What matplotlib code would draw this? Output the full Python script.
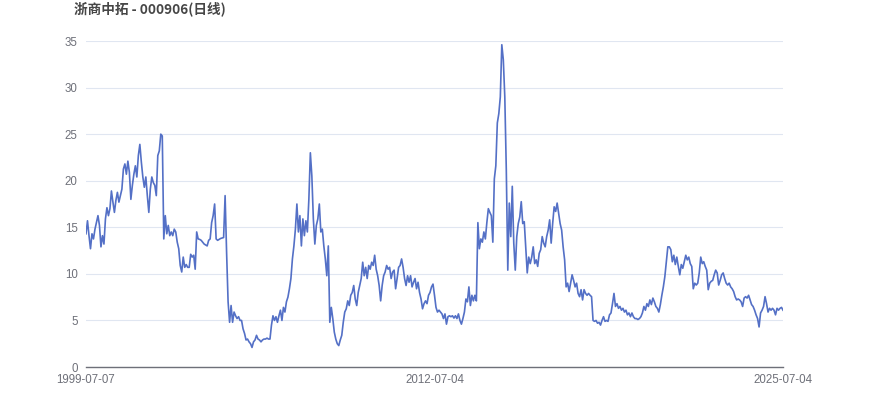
import matplotlib
matplotlib.use("Agg")
import matplotlib.pyplot as plt

plt.rcParams['font.family'] = ['Liberation Sans', 'Noto Sans CJK SC', 'DejaVu Sans']

# ============================
# 数据（从图上读取的日线收盘价，按交易日顺序）
# ============================
title = "浙商中拓 - 000906(日线)"

seg_1999_2005 = [
    14.3, 15.7, 14.1, 12.7, 14.3, 13.75, 14.8, 15.5, 16.25, 15.2, 12.9, 14.1, 13.2, 15.9,
    17.1, 16.25, 17.0, 18.9, 17.7, 16.6, 17.9, 18.75, 17.7, 18.4, 19.1, 21.25, 21.8, 20.7,
    22.1, 20.9, 18.0, 19.5, 20.7, 21.6, 20.4, 22.7, 23.9, 22.0, 20.4, 19.3, 20.4, 18.4,
    16.6, 19.1, 20.4, 19.8, 19.5, 18.4, 22.7, 23.2, 25.0, 24.8, 13.75, 16.25, 14.3, 15.2,
    14.1, 14.5, 14.1, 14.8, 14.5, 13.4, 12.7, 10.9, 10.2, 11.8, 10.7, 11.0, 10.7, 10.7,
    12.1, 11.8, 12.0, 10.5, 14.5, 13.75, 13.7, 13.6, 13.4, 13.2, 13.1, 13.0, 13.6, 13.75,
    15.5, 16.25, 17.5, 13.75, 13.6, 13.7, 13.8, 13.85, 13.9, 18.4, 12.3, 7.0, 4.8, 6.6,
]
seg_2005_2011 = [
    4.8, 5.9, 5.5, 5.2, 5.4, 5.0, 5.0, 4.1, 3.6, 2.9, 3.0, 2.7, 2.5, 2.1, 2.7, 2.9, 3.4,
    3.0, 2.9, 2.7, 2.9, 3.0, 3.0, 3.1, 3.0, 3.0, 4.5, 5.5, 5.0, 5.4, 4.8, 5.5, 6.1, 5.0,
    6.4, 5.9, 7.0, 7.5, 8.4, 9.5, 11.6, 13.0, 14.8, 17.5, 14.5, 16.25, 13.0, 15.9, 14.1,
    15.7, 14.5, 18.0, 23.0, 20.5, 15.9, 13.2, 15.2, 15.9, 17.5, 14.5, 14.8, 13.0, 11.6,
    9.8, 13.0, 4.8, 6.4, 5.2, 3.75, 3.0, 2.5, 2.3, 2.9, 3.4, 4.8, 5.9, 6.25, 7.1, 6.6,
    7.7, 8.0, 8.75, 7.3, 6.6, 8.0, 8.75, 9.5, 11.25, 9.8, 10.7, 9.5, 10.9, 10.5, 11.25,
    10.9,
]
seg_2011_2015 = [
    12.0, 10.5, 9.8, 8.75, 7.1, 8.75, 9.8, 10.2, 10.9, 10.5, 10.7, 9.5, 10.2, 10.4, 8.4,
    9.5, 10.7, 10.9, 11.6, 10.7, 9.5, 8.75, 9.8, 9.1, 9.8, 8.6, 9.1, 9.5, 8.4, 9.1, 8.0,
    7.3, 6.25, 6.8, 7.1, 6.8, 7.7, 8.0, 8.6, 8.9, 7.7, 6.4, 5.9, 6.1, 5.9, 5.7, 5.2, 5.7,
    4.6, 5.4, 5.5, 5.4, 5.5, 5.25, 5.5, 5.2, 5.7, 5.0, 4.6, 5.2, 5.9, 7.3, 7.0, 8.6, 6.6,
    7.7, 7.1, 7.7, 7.1, 15.5, 12.7, 13.75, 13.4, 14.5, 13.75, 15.5, 17.0, 16.6, 16.25,
    13.4, 20.2, 21.6,
]
seg_2015_2020 = [
    26.2, 27.2, 29.0, 34.6, 33.0, 29.0, 21.2, 10.4, 17.6, 14.0, 19.4, 13.3, 10.4,
    14.0, 15.4, 16.1, 17.75, 15.4, 15.6, 12.9, 10.1, 11.8, 11.1, 11.8, 12.9, 11.1, 11.5,
    10.8, 12.2, 12.6, 14.0, 13.3, 12.9, 14.0, 14.7, 15.8, 13.3, 15.4, 17.2, 16.7, 17.6,
    16.5, 15.4, 14.7, 12.9, 11.5, 8.6, 9.0, 8.1, 9.0, 9.9, 9.3, 8.6, 9.0, 7.9, 7.55, 8.3,
    7.2, 8.3, 7.9, 7.7, 7.9, 7.7, 7.55, 5.0, 4.9, 5.0, 4.7, 4.8, 4.5, 5.0, 5.4, 4.9, 5.0,
    4.9, 5.6, 5.8, 6.8, 7.9, 6.5, 6.8, 6.3, 6.5, 6.1, 6.3, 5.9, 6.1, 5.6, 5.8, 5.4, 5.8,
    5.4, 5.2, 5.2, 5.1, 5.2,
]
seg_2020_2025 = [
    5.4, 5.8, 6.5, 6.1, 6.8, 6.5, 7.2, 6.7, 7.4, 7.0, 6.5, 6.3, 5.9, 6.7, 7.7, 8.6, 9.7,
    11.3, 12.9, 12.9, 12.6, 11.3, 12.0, 11.0, 11.8, 10.8, 9.9, 11.0, 10.6, 11.3, 12.0,
    11.5, 11.8, 11.1, 10.8, 8.4, 9.0, 8.8, 9.0, 10.1, 11.8, 11.1, 11.3, 10.8, 10.4, 8.3,
    9.0, 9.2, 9.3, 9.9, 10.4, 10.1, 8.8, 9.3, 9.9, 10.1, 9.5, 9.0, 8.8, 9.0, 8.6, 8.4,
    8.1, 7.55, 7.2, 7.3, 7.2, 7.0, 6.5, 7.4, 7.55, 7.4, 7.7, 7.2, 6.7, 6.5, 6.1, 5.6,
    5.2, 4.3, 5.8, 6.1, 6.5, 7.55, 6.8, 5.9, 6.3, 6.1, 6.3, 6.1, 5.6, 6.3, 6.1, 6.3,
    6.4, 6.1,
]

prices = seg_1999_2005 + seg_2005_2011 + seg_2011_2015 + seg_2015_2020 + seg_2020_2025
date_labels = ["1999-07-07", "2012-07-04", "2025-07-04"]
y_ticks = [0, 5, 10, 15, 20, 25, 30, 35]

# ============================
# 绘图
# ============================
fig = plt.figure(figsize=(8.7, 4.17), dpi=100)
ax = fig.add_axes([86 / 870, 1 - 367 / 417, 697 / 870, 326 / 417])

idx = list(range(len(prices)))
ax.plot(idx, prices, color="#5470c6", linewidth=1.2, solid_joinstyle="round")

n = len(prices)
ax.set_xlim(0, n - 1)
ax.set_ylim(0, 35)
ax.set_xticks([0, (n - 1) / 2, n - 1])
ax.set_xticklabels(date_labels)
ax.set_yticks(y_ticks)

ax.grid(axis="y", color="#E0E6F1", linewidth=0.8)
ax.set_axisbelow(True)
for side in ["top", "right", "left"]:
    ax.spines[side].set_visible(False)
ax.spines["bottom"].set_color("#6E7079")
ax.spines["bottom"].set_linewidth(1)
ax.tick_params(axis="both", length=0, colors="#6E7079", labelsize=8.3)
ax.tick_params(axis="x", pad=5)
ax.tick_params(axis="y", pad=6)

fig.text(74 / 870, 1 - 9 / 417, title, ha="left", va="center",
         fontsize=9.8, fontweight="bold", color="#464646",
         family=["Noto Sans CJK SC", "DejaVu Sans"])

fig.savefig("out.png", dpi=100, facecolor="white")
